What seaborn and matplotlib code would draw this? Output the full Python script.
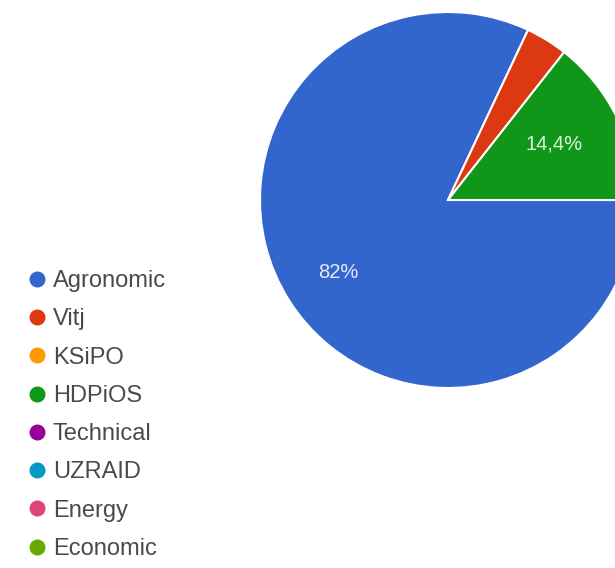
import matplotlib
matplotlib.use("Agg")
import matplotlib.pyplot as plt
from matplotlib.lines import Line2D
import seaborn as sns

# data
categories = ["Agronomic", "Vitj", "KSiPO", "HDPiOS", "Technical", "UZRAID", "Energy", "Economic"]
shares = [82.0, 3.6, 0.0, 14.4, 0.0, 0.0, 0.0, 0.0]
colors = ["#3366cc", "#dc3912", "#ff9900", "#109618", "#990099", "#0099c6", "#dd4477", "#66aa00"]

sns.set_style("white")
plt.rcParams['font.family'] = ['Liberation Sans', 'DejaVu Sans']

fig = plt.figure(figsize=(6.15, 5.68), dpi=100)
ax = fig.add_axes([0, 0, 1, 1])

# only non-empty slices get a wedge
vals = [v for v in shares if v > 0]
cols = [c for v, c in zip(shares, colors) if v > 0]
wedges, _ = ax.pie(vals, colors=cols, startangle=0, counterclock=False,
                   center=(448, 368), radius=188,
                   wedgeprops=dict(edgecolor="white", linewidth=1.5))
ax.set_xlim(0, 615)
ax.set_ylim(0, 568)
ax.set_aspect("auto")
ax.axis("off")

def pct(v):
    return ("%g" % v).replace(".", ",") + "%"

# slice labels (Google-charts style placement)
ax.text(338, 568 - 273, pct(shares[0]), color="#e4ebf7", fontsize=14.5,
        ha="center", va="center")
ax.text(554, 568 - 144, pct(shares[3]), color="#e0f2dc", fontsize=14.5,
        ha="center", va="center")

# legend
handles = [Line2D([], [], linestyle="none", marker="o", markersize=10.5,
                  markerfacecolor=c, markeredgecolor=c) for c in colors]
fig.legend(handles, categories, loc="upper left",
           bbox_to_anchor=(27 / 615, 1 - 270 / 568), frameon=False,
           fontsize=17, labelcolor="#4a4a4a", handlelength=0.85,
           handletextpad=0.25, labelspacing=0.69, borderpad=0, borderaxespad=0)

fig.savefig("out.png", dpi=100)
